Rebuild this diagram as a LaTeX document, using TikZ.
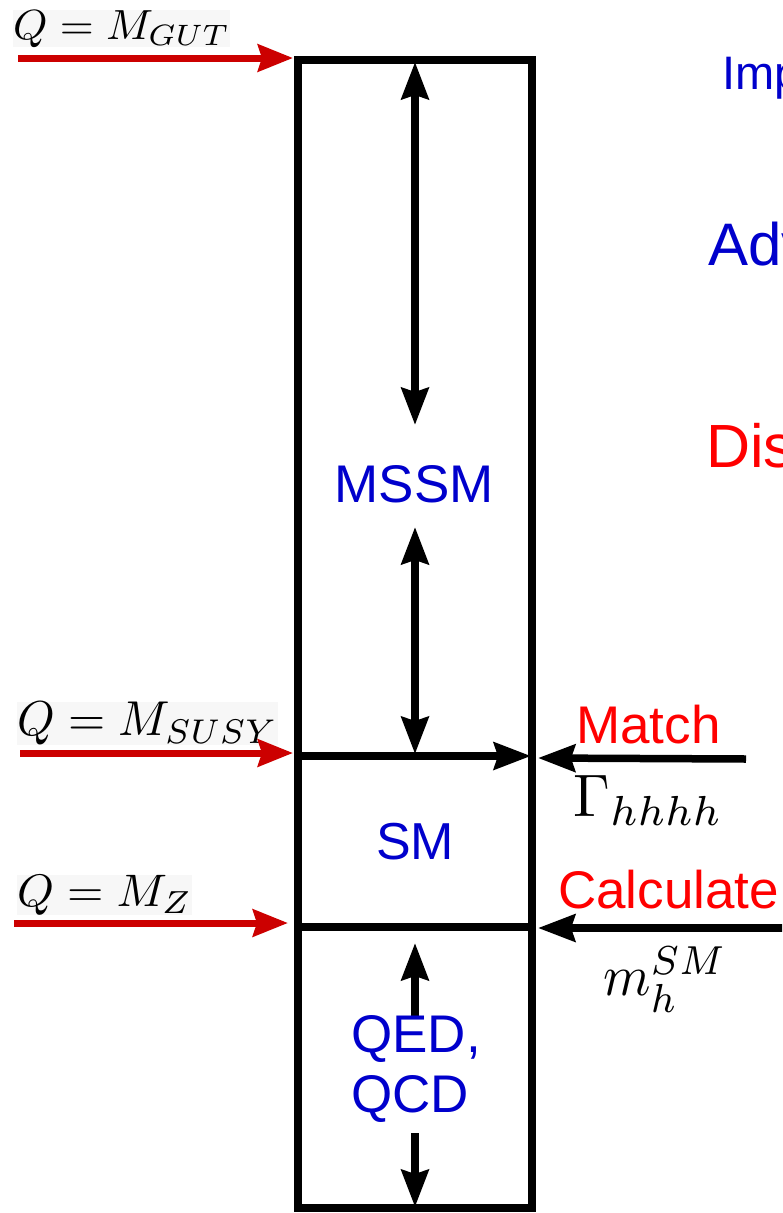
\documentclass[tikz,border=0pt]{standalone}
\usepackage[no-math]{fontspec}
\newfontfamily\arialf{Liberation Sans}
\usetikzlibrary{arrows.meta}
\definecolor{tblue}{RGB}{0,0,204}
\definecolor{tred}{RGB}{255,0,0}
\definecolor{ared}{RGB}{204,0,0}
\tikzset{
  sans/.style={font=\arialf\fontsize{#1}{#1}\selectfont, inner sep=0pt, anchor=base west},
  blk/.style={line width=7.5pt, draw=black},
  bhead/.style={-{Stealth[length=37pt,width=27pt,inset=4pt]}},
  bboth/.style={{Stealth[length=37pt,width=27pt,inset=4pt]}-{Stealth[length=37pt,width=27pt,inset=4pt]}},
  rarrow/.style={line width=7pt, draw=ared, -{Stealth[length=35pt,width=27pt,inset=4pt]}},
  mlabel/.style={inner sep=0pt, anchor=north west},
  mbg/.style={mlabel, fill=black!3},
}
\begin{document}
\begin{tikzpicture}[x=1pt,y=-1pt]
\useasboundingbox (0,0) rectangle (782,1213);
\clip (0,0) rectangle (782,1213);
\fill[white] (0,0) rectangle (782,1213);

% box corners and levels
\coordinate (TL) at (298,60);
\coordinate (BR) at (532,1208);
\coordinate (SL) at (298,756);
\coordinate (SR) at (531,756);
\coordinate (ZL) at (298,927);
\coordinate (ZR) at (532,927);

\draw[blk] (TL) rectangle (BR);
\draw[blk,bhead] (SL) -- (SR);
\draw[blk] (ZL) -- (ZR);

% internal running arrows
\coordinate (a1) at (415,62);
\coordinate (a2) at (415,425);
\coordinate (a3) at (415,527);
\coordinate (a4) at (415,754);
\coordinate (q1) at (415,1017);
\coordinate (q2) at (415,943);
\coordinate (q3) at (415,1133);
\coordinate (q4) at (415,1207);
\draw[blk,bboth] (a1) -- (a2);
\draw[blk,bboth] (a3) -- (a4);
\draw[blk,bhead] (q1) -- (q2);
\draw[blk,bhead] (q3) -- (q4);

% region labels
\node[sans=53, text=tblue, anchor=base] (mssm) at (414,502) {MSSM};
\node[sans=52, text=tblue, anchor=base] (sm) at (415,859) {SM};
\node[sans=53, text=tblue] (qed) at (351,1052) {QED,};
\node[sans=53, text=tblue] (qcd) at (351,1112) {QCD};

% left scale labels
\node[mbg] (lgut) at (13,10) {\resizebox*{217pt}{37pt}{$Q=M_{GUT}$}};
\node[mbg] (lsusy) at (17,702) {\resizebox*{261pt}{43pt}{$Q=M_{SUSY}$}};
\node[mbg] (lz) at (17,875) {\resizebox*{175pt}{40pt}{$Q=M_{Z}$}};

% red arrows
\coordinate (r1s) at (18,58);   \coordinate (r1e) at (293,58);
\coordinate (r2s) at (20,753);  \coordinate (r2e) at (293,753);
\coordinate (r3s) at (14,923);  \coordinate (r3e) at (288,923);
\draw[rarrow] (r1s) -- (r1e);
\draw[rarrow] (r2s) -- (r2e);
\draw[rarrow] (r3s) -- (r3e);

% right side
\node[sans=53, text=tred] (match) at (576,743) {Match};
\node[sans=53, text=tred] (calc) at (558,908) {Calculate};
\node[mlabel] (gam) at (573,775) {\resizebox*{150pt}{50pt}{$\Gamma_{hhhh}$}};
\node[mlabel] (mh) at (603,947) {\resizebox*{124pt}{65pt}{$m_h^{SM}$}};
\coordinate (m1) at (746,759);
\coordinate (m2) at (538,758);
\coordinate (c1) at (790,928);
\coordinate (c2) at (538,928);
\draw[blk,bhead] (m1) -- (m2);
\draw[blk,bhead] (c1) -- (c2);

\node[sans=47, text=tblue] (imp) at (722,89) {Imp};
\node[sans=60, text=tblue] (adv) at (708,265) {Adv};
\node[sans=61, text=tred] (dis) at (706,467) {Dis};
\end{tikzpicture}
\end{document}
